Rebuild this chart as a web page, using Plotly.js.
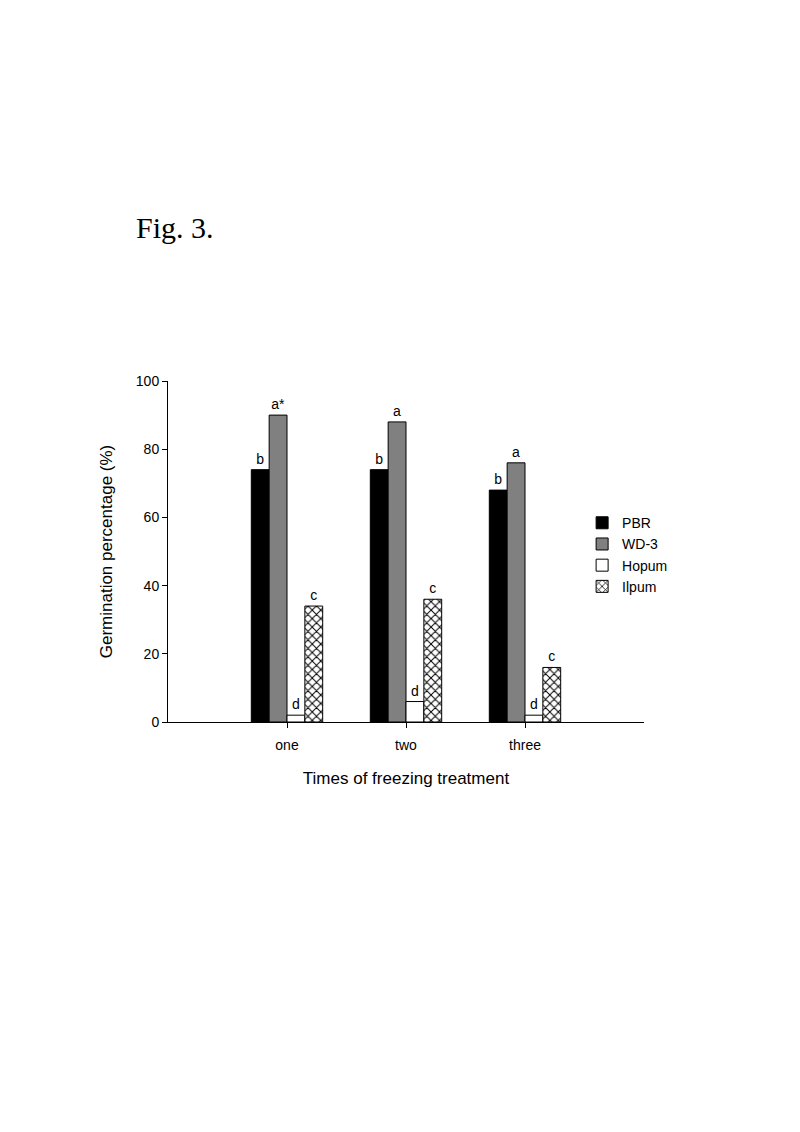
<!DOCTYPE html>
<html>
<head>
<meta charset="utf-8">
<script src="https://cdn.plot.ly/plotly-3.0.1.min.js"></script>
<style>html,body{margin:0;padding:0;background:#fff;}#chart{width:800px;height:1132px;}</style>
</head>
<body>
<div id="chart"></div>
<script>
const categories = ["one", "two", "three"];
const seriesNames = ["PBR", "WD-3", "Hopum", "Ilpum"];
const pbr = [74, 74, 68];
const wd3 = [90, 88, 76];
const hopum = [2, 6, 2];
const ilpum = [34, 36, 16];
const pbrLetters = ["b", "b", "b"];
const wd3Letters = ["a*", "a", "a"];
const hopumLetters = ["d", "d", "d"];
const ilpumLetters = ["c", "c", "c"];
const yTicks = [0, 20, 40, 60, 80, 100];

const textFont = {family: "Liberation Sans, Arial, sans-serif", size: 14, color: "#000000"};
function bar(name, y, letters, color, pattern) {
  const t = {
    type: "bar", name: name, x: categories, y: y,
    text: letters, textposition: "outside", textfont: textFont,
    outsidetextfont: textFont,
    constraintext: "none", cliponaxis: false,
    marker: {color: color, line: {color: "#000", width: 1}}
  };
  if (pattern) t.marker.pattern = pattern;
  return t;
}
const data = [
  bar(seriesNames[0], pbr, pbrLetters, "#000000"),
  bar(seriesNames[1], wd3, wd3Letters, "#808080"),
  bar(seriesNames[2], hopum, hopumLetters, "#ffffff"),
  bar(seriesNames[3], ilpum, ilpumLetters, "#ffffff", {shape: "x", fgcolor: "#000", bgcolor: "#fff", size: 6, solidity: 0.3})
];
const layout = {
  width: 800, height: 1132,
  paper_bgcolor: "#fff", plot_bgcolor: "#fff",
  margin: {l: 168, r: 156, t: 381, b: 410},
  barmode: "group", bargap: 0.4, bargroupgap: 0,
  font: {family: "Liberation Sans, Arial, sans-serif", color: "#000", size: 14},
  showlegend: true,
  legend: {x: 0.87, y: 0.63, xanchor: "left", yanchor: "top", bgcolor: "rgba(0,0,0,0)",
           font: {size: 14}, tracegroupgap: 0, itemwidth: 30},
  xaxis: {
    type: "category", range: [-1, 3], showline: true, linecolor: "#000", linewidth: 1,
    ticks: "outside", ticklen: 5, tickcolor: "#000", showgrid: false, zeroline: false,
    tickfont: {size: 14}, ticklabelstandoff: 5,
    title: {text: "Times of freezing treatment", font: {size: 17}, standoff: 20}
  },
  yaxis: {
    range: [0, 100], tickvals: yTicks, showline: true, linecolor: "#000", linewidth: 1,
    ticks: "outside", ticklen: 5, tickcolor: "#000", showgrid: false, zeroline: false,
    tickfont: {size: 14},
    title: {text: "Germination percentage (%)", font: {size: 17}, standoff: 18}
  },
  annotations: [{
    text: "Fig. 3.", xref: "paper", yref: "paper", x: (134 - 168) / 476, y: (722 - 228) / 341,
    xanchor: "left", yanchor: "middle", showarrow: false,
    font: {family: "Liberation Serif, Times New Roman, serif", size: 30, color: "#000"}
  }]
};
Plotly.newPlot("chart", data, layout, {displayModeBar: false, staticPlot: true});
</script>
</body>
</html>
